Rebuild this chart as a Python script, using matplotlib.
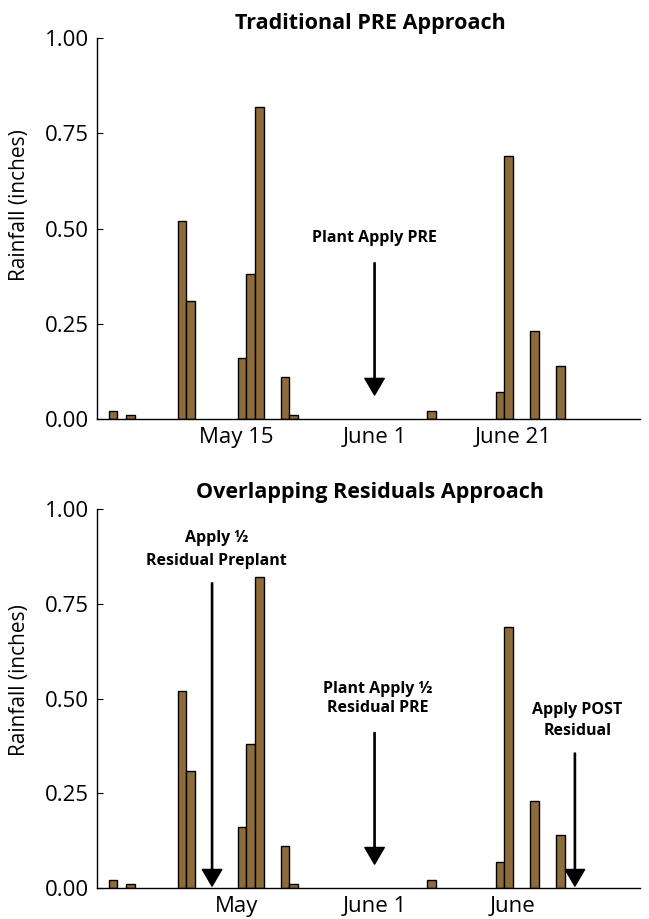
import matplotlib
matplotlib.use('Agg')
import matplotlib.pyplot as plt
from matplotlib.ticker import FixedLocator

plt.rcParams['font.family'] = ['Open Sans', 'DejaVu Sans']

# ---- data ----
days = [2, 4, 10, 11, 17, 18, 19, 22, 23, 39, 47, 48, 51, 54]
rainfall = [0.02, 0.01, 0.52, 0.31, 0.16, 0.38, 0.82, 0.11, 0.01, 0.02,
            0.07, 0.69, 0.23, 0.14]
tick_pos = [16.3, 32.4, 48.5]
top_ticklabels = ['May 15', 'June 1', 'June 21']
bottom_ticklabels = ['May', 'June 1', 'June']
yticks = [0.0, 0.25, 0.50, 0.75, 1.00]
ytick_labels = ['0.00', '0.25', '0.50', '0.75', '1.00']
titles = ['Traditional PRE Approach', 'Overlapping Residuals Approach']

# annotations: (text, text_x, text_y, arrow_start, arrow_tip, arrow_x, line spacing)
top_notes = [('Plant Apply PRE', 32.4, 0.475, 0.41, 0.063, 32.4, 1.1)]
bottom_notes = [('Apply ½\nResidual Preplant', 14.0, 0.893, 0.805, 0.005, 13.5, 1.55),
                ('Plant Apply ½\nResidual PRE', 32.8, 0.50, 0.41, 0.063, 32.4, 1.3),
                ('Apply POST\nResidual', 56.0, 0.443, 0.356, 0.005, 55.7, 1.4)]

BAR_COLOR = '#8D6B3B'

fig = plt.figure(figsize=(6.49, 9.19), dpi=100)
ax1 = fig.add_axes([0.1495, 0.544, 0.837, 0.4146])
ax2 = fig.add_axes([0.1495, 0.0337, 0.837, 0.4124])


def style(ax, ticklabels, title, title_y, ylab_y):
    ax.bar(days, rainfall, width=1.0, color=BAR_COLOR, edgecolor='black',
           linewidth=1.0, zorder=2)
    ax.set_xlim(0.12, 63.3)
    ax.set_ylim(0, 1.0)
    for s in ['top', 'right']:
        ax.spines[s].set_visible(False)
    for s in ['left', 'bottom']:
        ax.spines[s].set_linewidth(1.0)
    ax.set_yticks(yticks)
    ax.set_yticklabels(ytick_labels, fontsize=16)
    ax.tick_params(axis='y', direction='in', length=4, width=0.8, pad=6)
    ax.set_xticks(tick_pos)
    ax.set_xticklabels(ticklabels, fontsize=16)
    ax.tick_params(axis='x', which='major', length=0, pad=6)
    ax.xaxis.set_minor_locator(FixedLocator([tick_pos[1]]))
    ax.tick_params(axis='x', which='minor', direction='in', length=5, width=0.8)
    ax.text(-0.142, ylab_y, 'Rainfall (inches)', transform=ax.transAxes,
            rotation=90, ha='center', va='center', fontsize=15)
    fig.text(0.570, title_y, title, ha='center', va='baseline',
             fontsize=15.5, fontweight='bold')


style(ax1, top_ticklabels, titles[0], 0.9684, 0.562)
style(ax2, bottom_ticklabels, titles[1], 0.4581, 0.549)

arrow_kw = dict(facecolor='black', edgecolor='black', width=0.9,
                headwidth=14, headlength=12, shrink=0)

for txt, x, ty, y0, y1, ax_x, ls in top_notes:
    ax1.text(x, ty, txt, ha='center', va='center', fontsize=11.5,
             fontweight='bold', linespacing=ls)
    ax1.annotate('', xy=(ax_x, y1), xytext=(ax_x, y0), arrowprops=arrow_kw)

for txt, x, ty, y0, y1, ax_x, ls in bottom_notes:
    ax2.text(x, ty, txt, ha='center', va='center', fontsize=11.5,
             fontweight='bold', linespacing=ls)
    ax2.annotate('', xy=(ax_x, y1), xytext=(ax_x, y0), arrowprops=arrow_kw)

fig.savefig('out.png', dpi=100)
